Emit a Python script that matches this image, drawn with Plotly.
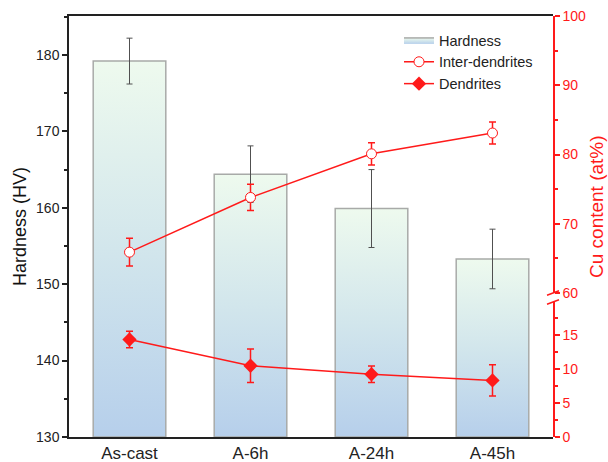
import plotly.graph_objects as go

# ---------------- data ----------------
categories = ["As-cast", "A-6h", "A-24h", "A-45h"]
hardness = [179.2, 164.4, 159.9, 153.3]
hardness_err = [3.0, 3.7, 5.1, 3.9]
inter_dendrites = [65.9, 73.8, 80.1, 83.1]
inter_dendrites_err = [2.0, 1.9, 1.6, 1.6]
dendrites = [14.3, 10.45, 9.2, 8.3]
dendrites_err = [1.2, 2.45, 1.2, 2.3]

left_ticks = [130, 140, 150, 160, 170, 180]
low_ticks = [0, 5, 10, 15]
high_ticks = [60, 70, 80, 90, 100]

# ---------------- layout constants ----------------
W, H = 608, 462
ML, MR, MT, MB = 69, 55, 16, 25
PW = W - ML - MR
PH = H - MT - MB
Y_MIN, Y_MAX = 130, 185.1
LOW_RANGE = [0, 19.8]
HIGH_RANGE = [60, 100]
LOW_DOM = [0, 0.3207]
HIGH_DOM = [0.342, 1]
BAR_W = 0.6
RED = "#ff1a1a"
FONT = "Liberation Sans, Arial, sans-serif"

fig = go.Figure()
xs = list(range(len(categories)))

# gradient bars
for i, (xc, v) in enumerate(zip(xs, hardness)):
    fig.add_trace(go.Scatter(
        x=[xc - BAR_W / 2, xc + BAR_W / 2, xc + BAR_W / 2, xc - BAR_W / 2, xc - BAR_W / 2],
        y=[Y_MIN, Y_MIN, v, v, Y_MIN],
        mode="lines", fill="toself",
        fillgradient=dict(type="vertical",
                          colorscale=[[0, "#b6cfeb"], [0.5, "#d2e6ec"], [1, "#eefaee"]]),
        line=dict(color="#a8aaa8", width=1.5),
        name="Hardness", legendgroup="hard", showlegend=(i == 0),
        hoverinfo="skip",
    ))

# hardness error bars
fig.add_trace(go.Scatter(
    x=xs, y=hardness, mode="markers",
    marker=dict(size=1, color="rgba(0,0,0,0)"),
    error_y=dict(type="data", array=hardness_err, color="#505050", thickness=1, width=3),
    showlegend=False, legendgroup="hard",
))

fig.add_trace(go.Scatter(
    x=xs, y=inter_dendrites, yaxis="y3", name="Inter-dendrites",
    mode="lines+markers",
    line=dict(color=RED, width=1.5),
    marker=dict(symbol="circle", size=10, color="white", line=dict(color=RED, width=1)),
    error_y=dict(type="data", array=inter_dendrites_err, color=RED, thickness=1.5, width=3.5),
))
fig.add_trace(go.Scatter(
    x=xs, y=dendrites, yaxis="y2", name="Dendrites",
    mode="lines+markers",
    line=dict(color=RED, width=1.5),
    marker=dict(symbol="diamond", size=11, color=RED, line=dict(color=RED, width=0)),
    error_y=dict(type="data", array=dendrites_err, color=RED, thickness=1.5, width=3.5),
))

tickfont = dict(family=FONT, size=14, color="#222")
redfont = dict(family=FONT, size=14, color=RED)

fig.update_layout(
    template="none",
    width=W, height=H,
    margin=dict(l=ML, r=MR, t=MT, b=MB, autoexpand=False),
    paper_bgcolor="white", plot_bgcolor="rgba(0,0,0,0)",
    font=dict(family=FONT, color="#222"),
    showlegend=True,
    legend=dict(x=(399 - ML) / PW, y=1 - 8 / PH, xanchor="left", yanchor="top",
                bgcolor="rgba(0,0,0,0)", font=dict(family=FONT, size=14.5, color="#222"),
                tracegroupgap=0, itemwidth=30),
    xaxis=dict(range=[-0.5, len(categories) - 0.5], tickvals=xs, ticktext=categories,
               showline=True, linecolor="#222", linewidth=1.5, mirror=True,
               ticks="", showgrid=False, zeroline=False, automargin=False,
               tickfont=dict(family=FONT, size=17, color="#222")),
    yaxis=dict(range=[Y_MIN, Y_MAX], tickvals=left_ticks, showline=True, linecolor="#222",
               linewidth=1.5, ticks="outside", ticklen=5, tickwidth=1.5, tickcolor="#222",
               minor=dict(dtick=5, ticks="outside", ticklen=3, tickwidth=1.5, tickcolor="#222"),
               showgrid=False, zeroline=False, tickfont=tickfont, automargin=False,
               title=dict(text="Hardness (HV)", font=dict(family=FONT, size=18, color="#111"),
                          standoff=5)),
    yaxis2=dict(domain=LOW_DOM, range=LOW_RANGE, anchor="x", side="right",
                tickvals=low_ticks, showline=True, linecolor=RED, linewidth=1.5,
                ticks="outside", ticklen=5, tickwidth=1.5, tickcolor=RED,
                minor=dict(dtick=2.5, tick0=0, ticks="outside", ticklen=3, tickwidth=1.5,
                           tickcolor=RED),
                showgrid=False, zeroline=False, tickfont=redfont, automargin=False),
    yaxis3=dict(domain=HIGH_DOM, range=HIGH_RANGE, anchor="x", side="right",
                tickvals=high_ticks, showline=True, linecolor=RED, linewidth=1.5,
                ticks="outside", ticklen=5, tickwidth=1.5, tickcolor=RED,
                minor=dict(dtick=5, tick0=60, ticks="outside", ticklen=3, tickwidth=1.5,
                           tickcolor=RED),
                showgrid=False, zeroline=False, tickfont=redfont, automargin=False),
)

# right axis title
fig.add_annotation(text="Cu content (at%)", textangle=-90, xref="paper", yref="paper",
                   x=(597 - ML) / PW, y=(H - MB - 207) / PH, xanchor="center",
                   yanchor="middle", showarrow=False,
                   font=dict(family=FONT, size=19, color=RED))

# axis break marks
for yb in (LOW_DOM[1], HIGH_DOM[0]):
    fig.add_shape(type="line", xref="paper", yref="paper",
                  x0=1 - 6 / PW, y0=yb - 2.2 / PH, x1=1 + 6 / PW, y1=yb + 2.2 / PH,
                  line=dict(color=RED, width=1.5))

fig.write_html("out.html")
